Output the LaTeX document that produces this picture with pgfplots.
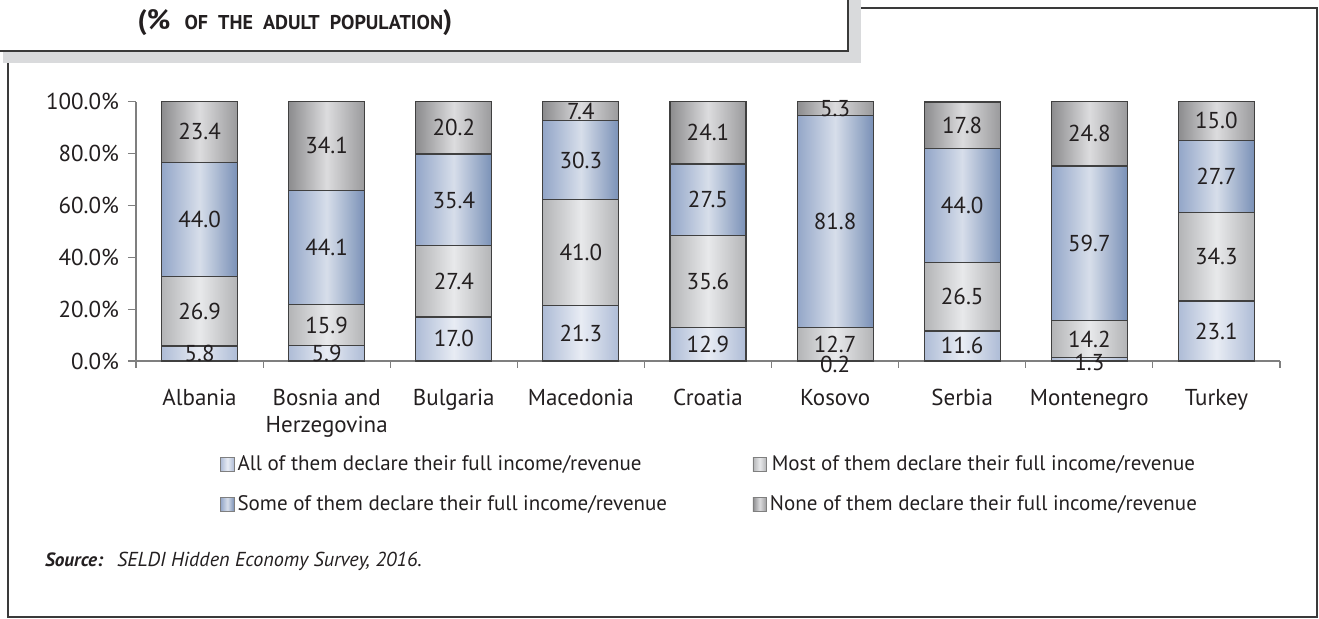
\documentclass[border=0pt]{standalone}
\usepackage{fontspec}
\setmainfont{PT Sans}
\usepackage{pgfplots}
\pgfplotsset{compat=1.18}

\definecolor{allL}{HTML}{AEBCD6}
\definecolor{allM}{HTML}{E8ECF4}
\definecolor{mostL}{HTML}{B3B4B6}
\definecolor{mostM}{HTML}{E8E9EB}
\definecolor{someL}{HTML}{93A6C8}
\definecolor{someR}{HTML}{7A91B7}
\definecolor{someM}{HTML}{D7DEEA}
\definecolor{noneL}{HTML}{8C8C8E}
\definecolor{noneR}{HTML}{9A9A9C}
\definecolor{noneM}{HTML}{DCDCDE}
\definecolor{axisgray}{HTML}{7F7F7F}
\definecolor{framegray}{HTML}{3A3A3A}
\definecolor{shadowgray}{HTML}{D9DADC}
\definecolor{txt}{HTML}{231F20}

% one series is one path, so its shading repeats once per bar:
% 9 bars, 63.556pt apart, 38pt wide, over a 546.44pt box (= 50bp of the shading)
\newcommand\defbarshade[4]{%
  \xdef\shadespec{color(0bp)=(#2)}%
  \foreach \k in {0,...,8}{%
    \pgfmathsetmacro\sa{25+\k*5.81534}%
    \pgfmathsetmacro\sb{\sa+1.73851}%
    \pgfmathsetmacro\sc{\sa+3.47701}%
    \xdef\shadespec{\shadespec; color(\sa bp)=(#2); color(\sb bp)=(#3); color(\sc bp)=(#4)}%
  }%
  \xdef\shadespec{\shadespec; color(100bp)=(#4)}%
  \edef\next{\noexpand\pgfdeclarehorizontalshading{#1}{100bp}{\shadespec}}\next}
\defbarshade{allshade}{allL}{allM}{allL}
\defbarshade{mostshade}{mostL}{mostM}{mostL}
\defbarshade{someshade}{someL}{someM}{someR}
\defbarshade{noneshade}{noneL}{noneM}{noneR}

\newcommand\lbl{\fontsize{11.5}{13.5}\selectfont}

\begin{document}
\begin{tikzpicture}
  \begin{scope}[x=0.5pt,y=0.5pt]
  \useasboundingbox (0,0) rectangle (1319,619);
  \fill[shadowgray] (848,556) rectangle (861,619);
  \fill[shadowgray] (3,556) rectangle (861,568);
  \draw[framegray, line width=1pt] (0,568) -- (848,568) -- (848,619);
  \draw[framegray, line width=1pt] (861,611) -- (1317,611) -- (1317,2) -- (8,2) -- (8,556);
  \node[txt, anchor=center] at (295,596)
    {\fontsize{14}{16}\selectfont\bfseries (\%\ \ \fontsize{10}{12}\selectfont OF\ \ THE\ \ ADULT\ \ POPULATION\fontsize{14}{16}\selectfont)};
  \node[txt, anchor=base west, font=\fontsize{9.6}{12}\selectfont\bfseries\itshape] at (38,52) {Source:};
  \node[txt, anchor=base west, font=\fontsize{10.1}{12}\selectfont\itshape] at (110,52) {SELDI Hidden Economy Survey, 2016.};
  \end{scope}

  \begin{axis}[
      at={(68pt,129pt)}, anchor=south west,
      scale only axis, width=572pt, height=129.65pt,
      xmin=-0.5, xmax=8.5, ymin=0, ymax=100,
      ybar stacked, bar width=38pt,
      clip=false,
      axis x line*=bottom, axis y line*=left,
      axis line style={draw=axisgray, line width=0.6pt},
      tick style={draw=axisgray, line width=0.6pt},
      tick align=outside,
      major tick length=4pt, minor tick length=3.5pt,
      xtick={0,...,8},
      xticklabels={Albania, Bosnia and\\Herzegovina, Bulgaria, Macedonia, Croatia, Kosovo, Serbia, Montenegro, Turkey},
      major x tick style={draw=none},
      minor xtick={-0.5,0.5,...,8.5},
      xticklabel style={align=center, font=\lbl, text=txt, yshift=-6.5pt},
      ytick={0,20,40,60,80,100},
      yticklabels={0.0\%,20.0\%,40.0\%,60.0\%,80.0\%,100.0\%},
      yticklabel style={font=\lbl, text=txt, xshift=-1pt},
      /pgf/number format/assume math mode=true,
      every axis plot/.append style={draw=black!75, line width=0.6pt},
      nodes near coords={\pgfmathprintnumber[fixed,fixed zerofill,precision=1]{\pgfplotspointmeta}},
      visualization depends on=rawy \as \rawy,
      every node near coord/.append style={anchor=center, font=\lbl, text=txt,
        shift={(axis direction cs:0,{-(\rawy<2)*1.4})}},
      legend columns=2,
      legend style={at={(0.068,-0.332)}, anchor=north west, draw=none, fill=none,
        font=\fontsize{10.5}{12.5}\selectfont, text=txt, row sep=7pt,
        nodes={inner xsep=1.5pt}},
    ]
    \addplot[shade, shading=allshade,
      legend image code/.code={\draw[left color=allL, right color=allL, middle color=allM, draw=axisgray, line width=0.4pt] (0pt,-3.4pt) rectangle (6.8pt,3.4pt);}]
      coordinates {(0,5.8) (1,5.9) (2,17.0) (3,21.3) (4,12.9) (5,0.2) (6,11.6) (7,1.3) (8,23.1)};
    \addplot[shade, shading=mostshade,
      legend image code/.code={\draw[left color=mostL, right color=mostL, middle color=mostM, draw=axisgray, line width=0.4pt] (0pt,-3.4pt) rectangle (6.8pt,3.4pt);}]
      coordinates {(0,26.9) (1,15.9) (2,27.4) (3,41.0) (4,35.6) (5,12.7) (6,26.5) (7,14.2) (8,34.3)};
    \addplot[shade, shading=someshade,
      legend image code/.code={\draw[left color=someL, right color=someR, middle color=someM, draw=axisgray, line width=0.4pt] (0pt,-3.4pt) rectangle (6.8pt,3.4pt);}]
      coordinates {(0,44.0) (1,44.1) (2,35.4) (3,30.3) (4,27.5) (5,81.8) (6,44.0) (7,59.7) (8,27.7)};
    \addplot[shade, shading=noneshade,
      legend image code/.code={\draw[left color=noneL, right color=noneR, middle color=noneM, draw=axisgray, line width=0.4pt] (0pt,-3.4pt) rectangle (6.8pt,3.4pt);}]
      coordinates {(0,23.4) (1,34.1) (2,20.2) (3,7.4) (4,24.1) (5,5.3) (6,17.8) (7,24.8) (8,15.0)};
    \legend{\makebox[256pt][l]{All of them declare their full income/revenue},
      Most of them declare their full income/revenue,
      \makebox[256pt][l]{Some of them declare their full income/revenue},
      None of them declare their full income/revenue}
  \end{axis}
\end{tikzpicture}
\end{document}
